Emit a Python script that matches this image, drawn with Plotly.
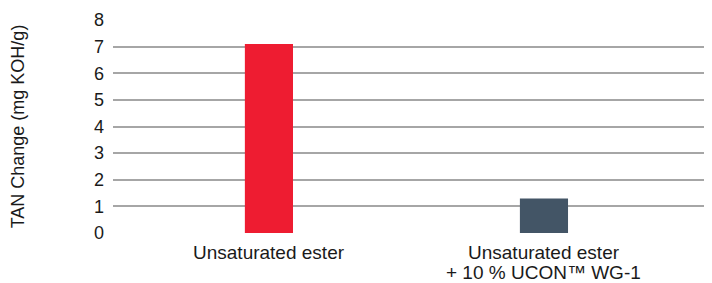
import plotly.graph_objects as go

categories = ["Unsaturated ester", "Unsaturated ester<br>+ 10 % UCON™ WG-1"]
values = [7.1, 1.3]
colors = ["#EE1C31", "#435566"]
y_ticks = [0, 1, 2, 3, 4, 5, 6, 7, 8]

font = "Liberation Sans, Arial, Helvetica, sans-serif"
txt = "#1a1a1a"

fig = go.Figure()
fig.add_trace(go.Bar(
    x=categories, y=values, marker=dict(color=colors, line=dict(width=0)),
    width=0.175,
))

# category labels, one annotation per line for tight line spacing
for cat in categories:
    for i, line in enumerate(cat.split("<br>")):
        fig.add_annotation(
            x=cat, xref="x", y=0, yref="paper", yanchor="middle",
            yshift=-19 - 20 * i, text=line, showarrow=False,
            font=dict(size=19, family=font, color=txt),
        )

fig.update_layout(
    width=704, height=275,
    margin=dict(l=105, r=0, t=12, b=50, autoexpand=False),
    paper_bgcolor="white", plot_bgcolor="white",
    showlegend=False,
    font=dict(family=font, color=txt),
    xaxis=dict(
        type="category", range=[-0.567, 1.611], showgrid=False,
        showline=False, zeroline=False, showticklabels=False,
        ticks="", fixedrange=True, automargin=False,
    ),
    yaxis=dict(
        range=[0, 8], tickvals=y_ticks, showgrid=True,
        gridcolor="#a6a6a6", gridwidth=1.6, zeroline=False, showline=False,
        tickfont=dict(size=18, family=font, color=txt),
        ticklabelstandoff=8,
        title=dict(text="TAN Change (mg KOH/g)", font=dict(size=18, family=font, color=txt), standoff=65),
        automargin=False,
    ),
)

fig.write_html("out.html")
